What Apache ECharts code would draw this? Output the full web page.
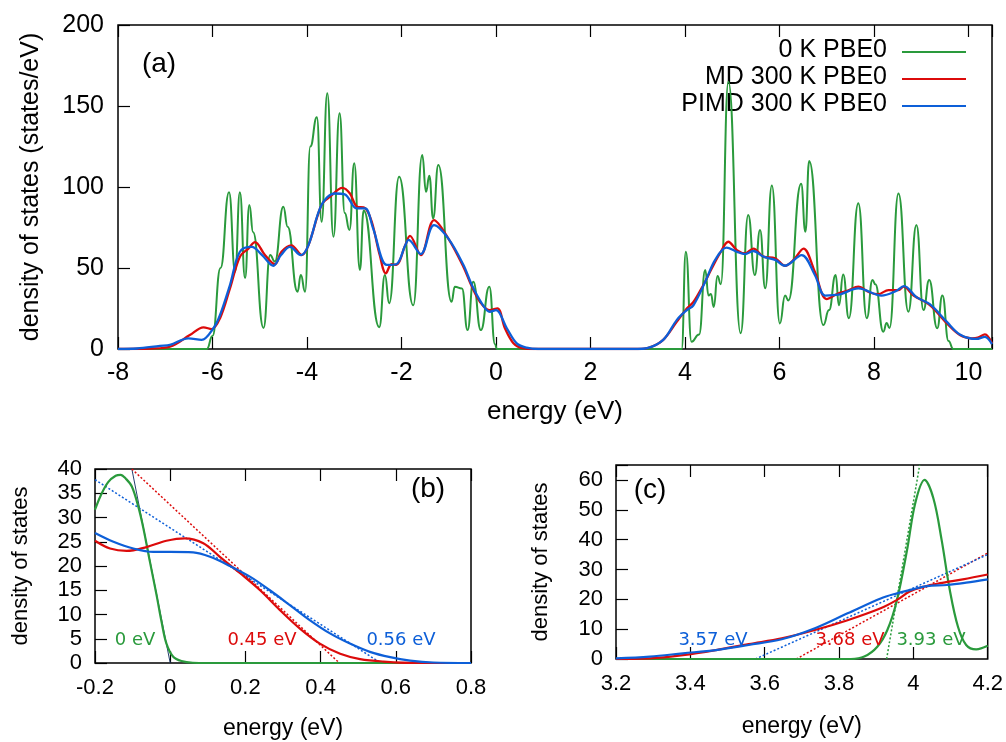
<!DOCTYPE html>
<html>
<head>
    <meta charset="utf-8">
    <style type="text/css">
        html,body { margin: 0px; padding: 0px; background: #fff; }
        #main { width: 1006px; height: 742px; }
    </style>
    <script src="https://cdn.jsdelivr.net/npm/echarts@6/dist/echarts.min.js"></script>
</head>
<body>
    <div id="main"></div>
    <script type="text/javascript">
        // ---- data (energy in eV, DOS) ----
        // panel (a): full DOS
        var aGreen = [[-8,0],[-6.12,0],[-6.0,8],[-5.83,50],[-5.65,96.7],[-5.52,47.7],[-5.42,96.7],[-5.31,43.8],[-5.22,88.9],[-5.14,72],
            [-4.92,13],[-4.78,58],[-4.68,54],[-4.50,87.8],[-4.41,75.5],[-4.20,35.4],[-4.13,45.7],[-4.04,35.4],[-3.93,125],[-3.79,143],
            [-3.69,78.6],[-3.57,157.8],[-3.44,69.3],[-3.31,145.5],[-3.2,84],[-3.10,73.5],[-3.0,114.6],[-2.88,48.8],[-2.80,85.5],[-2.47,13.5],
            [-2.35,45.7],[-2.26,28.2],[-2.05,106.4],[-1.75,27],[-1.56,119.8],[-1.48,97],[-1.41,107],[-1.33,80.6],[-1.22,113.6],[-0.94,29.2],
            [-0.87,38.5],[-0.72,37.4],[-0.60,11.7],[-0.48,41.5],[-0.32,11.7],[-0.14,38.5],[-0.02,3],[0.02,0],
            [3.93,0],[4.02,60],[4.14,4.5],[4.30,9],[4.43,48.8],[4.50,33],[4.55,34],[4.61,26],[4.69,45],[4.76,40],[4.92,165],
            [5.18,9.7],[5.34,82.7],[5.48,45.7],[5.59,73.5],[5.70,37.5],[5.84,101],[6.01,15.8],[6.12,33],[6.19,30],[6.46,102],
            [6.55,72.4],[6.63,116],[6.93,14.8],[7.05,24],[7.19,45.7],[7.26,27],[7.35,46],[7.47,19],[7.67,90],[7.85,19],
            [7.97,42.6],[8.03,40],[8.20,10.7],[8.27,16],[8.33,13],[8.52,96],[8.73,23],[8.90,76.5],[9.05,24],[9.17,42.6],
            [9.34,12.8],[9.45,33],[9.58,5],[9.68,0],[10.5,0]];
        var aRed = [[-8,0],[-7.3,0.3],[-6.9,1.4],[-6.48,8.6],[-6.19,13.4],[-6.02,12.3],[-5.84,19],[-5.63,37.4],[-5.42,57],[-5.24,62],
            [-5.10,66],[-4.89,58],[-4.68,52.3],[-4.54,60],[-4.33,64],[-4.11,58],[-3.97,64],[-3.69,89],[-3.51,94],[-3.25,99.5],
            [-3.09,96],[-2.95,88],[-2.77,87],[-2.63,78.6],[-2.46,58],[-2.33,46.7],[-2.21,52.3],[-2.11,52],[-1.92,64],[-1.82,69.8],
            [-1.59,58],[-1.31,79.6],[-1.01,68.3],[-0.69,50.8],[-0.51,38.5],[-0.34,29.2],[-0.14,24],[0.03,25.1],[0.19,12.8],[0.37,3.5],
            [0.55,0.5],[0.8,0],[3.0,0],[3.26,1],[3.54,5.6],[3.83,16.9],[4.04,25],[4.18,29],[4.39,39.5],[4.57,49.8],
            [4.74,59],[4.92,66.2],[5.10,61],[5.27,59],[5.45,62],[5.66,57],[5.91,56],[6.12,51.4],[6.3,55],[6.51,62],
            [6.75,47.7],[7.0,30.8],[7.25,34.4],[7.45,36],[7.67,38.5],[7.9,35],[8.09,33.8],[8.31,36.4],[8.52,36.4],[8.63,38.5],
            [8.84,33],[9.19,27],[9.54,15.9],[9.82,8.6],[10.07,6.6],[10.2,7],[10.35,9],[10.5,3.5]];
        var aBlue = [[-8,0],[-7.6,0.3],[-7.11,1.9],[-6.9,2.5],[-6.51,6.6],[-6.23,5.6],[-5.98,12.8],[-5.84,21],[-5.63,39.5],[-5.42,60],
            [-5.17,63],[-4.95,58],[-4.71,51.4],[-4.55,58],[-4.36,63],[-4.13,58],[-3.97,64],[-3.69,89],[-3.41,96],[-3.20,95.5],
            [-2.95,86.8],[-2.77,86.8],[-2.60,74.5],[-2.31,51.9],[-2.11,52.3],[-1.92,64],[-1.85,67.3],[-1.59,58.6],[-1.31,76.5],[-1.01,68.3],
            [-0.69,52],[-0.51,39.5],[-0.30,28.2],[-0.13,23],[0.0,24],[0.23,12.8],[0.44,3.5],[0.65,0.8],[0.9,0],[3.0,0],
            [3.2,0.5],[3.54,5.6],[3.83,18],[4.04,24],[4.18,27],[4.43,41.5],[4.64,55],[4.88,62.6],[5.10,60],[5.27,58.6],
            [5.45,60.5],[5.66,57],[5.91,55],[6.12,51.4],[6.47,58],[6.75,45.7],[6.97,33],[7.25,33.5],[7.67,37.4],[8.16,33],
            [8.45,35.5],[8.64,38.8],[8.90,32],[9.19,27.5],[9.54,16.9],[9.82,9],[10.17,6.2],[10.35,7.5],[10.5,3]];

        // panel (b): valence band edge
        var bGreen = [[-0.2,31.6],[-0.185,34.5],[-0.165,37.3],[-0.145,38.6],[-0.132,38.8],[-0.118,38],[-0.102,36.4],[-0.085,32.3],
            [-0.0716,27.9],[-0.054,20.9],[-0.036,13.9],[-0.023,8.5],[-0.01,4],[0.008,1.3],[0.03,0.4],[0.06,0.05],[0.1,0],[0.8,0]];
        var bRed = [[-0.2,25.2],[-0.16,23.6],[-0.116,23.1],[-0.063,23.9],[-0.01,25.2],[0.039,25.7],[0.088,24.7],[0.132,21.9],
            [0.186,18.5],[0.239,15],[0.292,10.9],[0.345,7.1],[0.398,4],[0.452,1.9],[0.505,0.8],[0.567,0.3],[0.66,0],[0.8,0]];
        var bBlue = [[-0.2,26.8],[-0.151,25],[-0.098,23.6],[-0.045,22.9],[0.0,22.9],[0.061,22.8],[0.106,21.9],[0.159,20],
            [0.212,17.8],[0.265,15],[0.319,11.9],[0.372,8.8],[0.425,6.1],[0.478,4],[0.531,2.3],[0.585,1.2],[0.638,0.5],[0.70,0.1],[0.8,0]];
        var bFitGreen = [[-0.102,40],[0,0]];
        var bFitRed = [[-0.102,40],[0.45,0]];
        var bFitBlue = [[-0.2,37.8],[0.56,0]];

        // panel (c): conduction band edge
        var cGreen = [[3.2,0],[3.832,0],[3.868,0.8],[3.903,4.1],[3.93,9.7],[3.956,19.8],[3.983,36.5],[4.005,52.2],[4.03,60],
            [4.054,53.8],[4.076,39.9],[4.098,23.1],[4.12,10.8],[4.142,4.7],[4.169,3.2],[4.2,4.4]];
        var cRed = [[3.2,0],[3.291,0.2],[3.38,1.3],[3.469,3],[3.557,5],[3.646,6.9],[3.735,9.7],[3.823,13],[3.912,17],
            [3.956,19.8],[3.99,22.6],[4.027,24.2],[4.071,25.4],[4.133,26.7],[4.2,28.3]];
        var cBlue = [[3.2,0.2],[3.291,0.8],[3.38,1.9],[3.469,3],[3.557,4.7],[3.646,6.6],[3.735,10.3],[3.823,15.3],[3.912,20.3],
            [3.956,22],[4.0,23.4],[4.037,24.4],[4.09,24.8],[4.142,25.6],[4.2,26.7]];
        var cFitGreen = [[3.928,0],[4.017,65]];
        var cFitRed = [[3.685,0],[4.2,35.5]];
        var cFitBlue = [[3.575,0],[4.2,35]];

        var names = ['0 K PBE0', 'MD 300 K PBE0', 'PIMD 300 K PBE0'];
        var gapLabelsB = ['0 eV', '0.45 eV', '0.56 eV'];
        var gapLabelsC = ['3.57 eV', '3.68 eV', '3.93 eV'];

        var GREEN = '#2a9a3c', RED = '#dc0b0b', BLUE = '#0d5fd8';
        var FONT = 'Liberation Sans';
        var FONT2 = 'DejaVu Sans';

        function multipleOf(step) { // hide the label of an edge that is not a tick
            return function (v) {
                var k = v / step;
                return Math.abs(k - Math.round(k)) < 1e-6 ? String(+v.toFixed(2)) : '';
            };
        }

        var tick = { inside: true, length: 12, lineStyle: { color: '#000', width: 1.2 } };

        function xAxisPair(g, min, max, step, fs, margin, name, nameGap) {
            return [{
                gridIndex: g, type: 'value', position: 'bottom', min: min, max: max, interval: step,
                axisLine: { show: false, onZero: false }, splitLine: { show: false }, axisTick: tick,
                axisLabel: { color: '#000', fontSize: fs, fontFamily: FONT, margin: margin, formatter: multipleOf(step) },
                name: name, nameLocation: 'middle', nameGap: nameGap,
                nameTextStyle: { color: '#000', fontSize: fs + 1, fontFamily: FONT }
            }, {
                gridIndex: g, type: 'value', position: 'top', min: min, max: max, interval: step,
                axisLine: { show: false, onZero: false }, splitLine: { show: false }, axisLabel: { show: false },
                axisTick: tick
            }];
        }

        function yAxisOne(g, max, step, fs, margin, name, nameGap) {
            return {
                gridIndex: g, type: 'value', position: 'left', min: 0, max: max, interval: step,
                axisLine: { show: false, onZero: false }, splitLine: { show: false }, axisTick: tick,
                axisLabel: { color: '#000', fontSize: fs, fontFamily: FONT, margin: margin, formatter: multipleOf(step) },
                name: name, nameLocation: 'middle', nameGap: nameGap, nameRotate: 90,
                nameTextStyle: { color: '#000', fontSize: fs, fontFamily: FONT }
            };
        }

        function curve(data, xi, yi, color, w, extra) {
            var s = {
                type: 'line', data: data, xAxisIndex: xi, yAxisIndex: yi, showSymbol: false, smooth: 0.35,
                lineStyle: { color: color, width: w }, silent: true, z: 3
            };
            for (var k in extra) s[k] = extra[k];
            return s;
        }

        function fit(data, xi, yi, color, w, type) {
            return {
                type: 'line', data: data, xAxisIndex: xi, yAxisIndex: yi, showSymbol: false,
                lineStyle: { color: color, width: w, type: type }, silent: true, z: 2
            };
        }

        var xs = [].concat(
            xAxisPair(0, -8, 10.5, 2, 25, 12, 'energy (eV)', 50),
            xAxisPair(1, -0.2, 0.8, 0.2, 22, 14, 'energy (eV)', 54),
            xAxisPair(2, 3.2, 4.2, 0.2, 22, 14, 'energy (eV)', 56)
        );
        var ys = [
            yAxisOne(0, 200, 50, 25, 14, 'density of states (states/eV)', 74),
            yAxisOne(1, 40, 5, 22, 13, 'density of states', 63),
            yAxisOne(2, 65, 10, 22, 13, 'density of states', 64)
        ];

        var border = { show: true, borderColor: '#000', borderWidth: 1.5, backgroundColor: 'transparent' };
        var grids = [
            Object.assign({ left: 118, top: 25, width: 874, height: 324 }, border),
            Object.assign({ left: 95, top: 469, width: 376, height: 194 }, border),
            Object.assign({ left: 616, top: 465, width: 376, height: 194 }, border)
        ];

        var series = [
            curve(aGreen, 0, 0, GREEN, 2, { smooth: 0.5, smoothMonotone: 'x' }),
            curve(aRed, 0, 0, RED, 2.3),
            curve(aBlue, 0, 0, BLUE, 2.3),
            fit(bFitGreen, 2, 1, '#24406e', 1, 'solid'),
            fit(bFitRed, 2, 1, RED, 1.5, [2, 2]),
            fit(bFitBlue, 2, 1, BLUE, 1.5, [2, 2]),
            curve(bGreen, 2, 1, GREEN, 2.2),
            curve(bRed, 2, 1, RED, 2.2),
            curve(bBlue, 2, 1, BLUE, 2.2),
            fit(cFitGreen, 4, 2, GREEN, 1.5, [2, 2]),
            fit(cFitRed, 4, 2, RED, 1.5, [2, 2]),
            fit(cFitBlue, 4, 2, BLUE, 1.5, [2, 2]),
            curve(cGreen, 4, 2, GREEN, 2.2),
            curve(cRed, 4, 2, RED, 2.2),
            curve(cBlue, 4, 2, BLUE, 2.2)
        ];

        var colors = [GREEN, RED, BLUE];
        var graphics = [
            { type: 'text', x: 159, y: 64, style: { text: '(a)', fill: '#000', font: '28px ' + FONT, textAlign: 'center', textVerticalAlign: 'middle' } },
            { type: 'text', x: 428, y: 489, style: { text: '(b)', fill: '#000', font: '28px ' + FONT, textAlign: 'center', textVerticalAlign: 'middle' } },
            { type: 'text', x: 650, y: 490, style: { text: '(c)', fill: '#000', font: '28px ' + FONT, textAlign: 'center', textVerticalAlign: 'middle' } }
        ];
        var legendY = [50, 77, 104];
        var bLabelX = [135, 262, 401];
        var cLabelX = [713, 850, 931];
        for (var i = 0; i < 3; i++) {
            graphics.push({ type: 'text', x: 887, y: legendY[i], style: { text: names[i], fill: '#000', font: '25px ' + FONT, textAlign: 'right', textVerticalAlign: 'middle' } });
            graphics.push({ type: 'line', shape: { x1: 902, y1: legendY[i] + 2, x2: 966, y2: legendY[i] + 2 }, style: { stroke: colors[i], lineWidth: 2.2 } });
            graphics.push({ type: 'text', x: bLabelX[i], y: 640, z: 10, style: { text: gapLabelsB[i], fill: colors[i], font: '18px ' + FONT2, textAlign: 'center', textVerticalAlign: 'middle' } });
            graphics.push({ type: 'text', x: cLabelX[i], y: 640, z: 10, style: { text: gapLabelsC[i], fill: colors[2 - i], font: '18px ' + FONT2, textAlign: 'center', textVerticalAlign: 'middle' } });
        }

        var myChart = echarts.init(document.getElementById('main'));
        myChart.setOption({
            animation: false,
            backgroundColor: '#fff',
            grid: grids,
            xAxis: xs,
            yAxis: ys,
            series: series,
            graphic: graphics
        });
    </script>
</body>
</html>
